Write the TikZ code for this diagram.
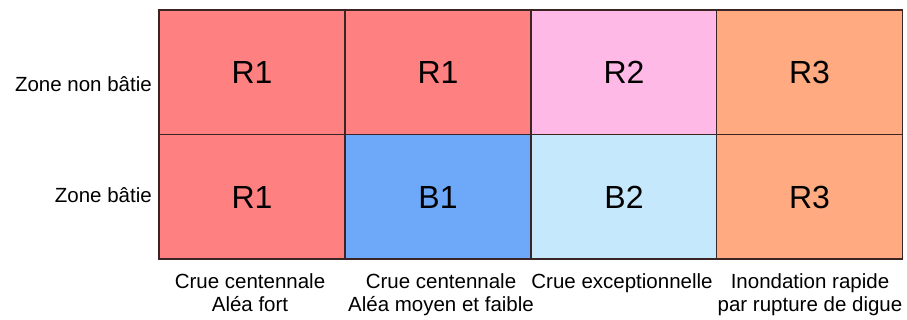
\documentclass[tikz,border=0pt]{standalone}
\usepackage{fontspec}
\setmainfont{Liberation Sans}
\definecolor{cR1}{HTML}{FF8080}
\definecolor{cR2}{HTML}{FFB9E6}
\definecolor{cR3}{HTML}{FFAA80}
\definecolor{cB1}{HTML}{6EA8F8}
\definecolor{cB2}{HTML}{C6E8FC}
\definecolor{gridline}{HTML}{3A2424}
\begin{document}
\begin{tikzpicture}[x=1pt,y=-1pt,
  cell/.style={draw=gridline,line width=1.5pt,minimum width=186pt,minimum height=124.5pt,inner sep=0pt,
    font=\fontsize{32}{36}\selectfont},
  rowlab/.style={anchor=east,inner sep=0pt,font=\fontsize{20.5}{24}\selectfont},
  collab/.style={anchor=north,inner sep=0pt,align=center,font=\fontsize{20.5}{23.5}\selectfont}]
\useasboundingbox (0,0) rectangle (907,320);
\node[cell,fill=cR1] (a1) at (252,72.5) {R1};
\node[cell,fill=cR1] (a2) at (438,72.5) {R1};
\node[cell,fill=cR2] (a3) at (624,72.5) {R2};
\node[cell,fill=cR3] (a4) at (809.5,72.5) {R3};
\node[cell,fill=cR1] (b1) at (252,197) {R1};
\node[cell,fill=cB1] (b2) at (438,197) {B1};
\node[cell,fill=cB2] (b3) at (624,197) {B2};
\node[cell,fill=cR3] (b4) at (809.5,197) {R3};
\node[rowlab] (l1) at (152,84) {Zone non bâtie};
\node[rowlab] (l2) at (152,195) {Zone bâtie};
\node[collab] (c1) at (250,273) {Crue centennale\\Aléa fort};
\node[collab] (c2) at (441,273) {Crue centennale\\Aléa moyen et faible};
\node[collab] (c3) at (622,273) {Crue exceptionnelle};
\node[collab] (c4) at (810,273) {Inondation rapide\\par rupture de digue};
\end{tikzpicture}
\end{document}
